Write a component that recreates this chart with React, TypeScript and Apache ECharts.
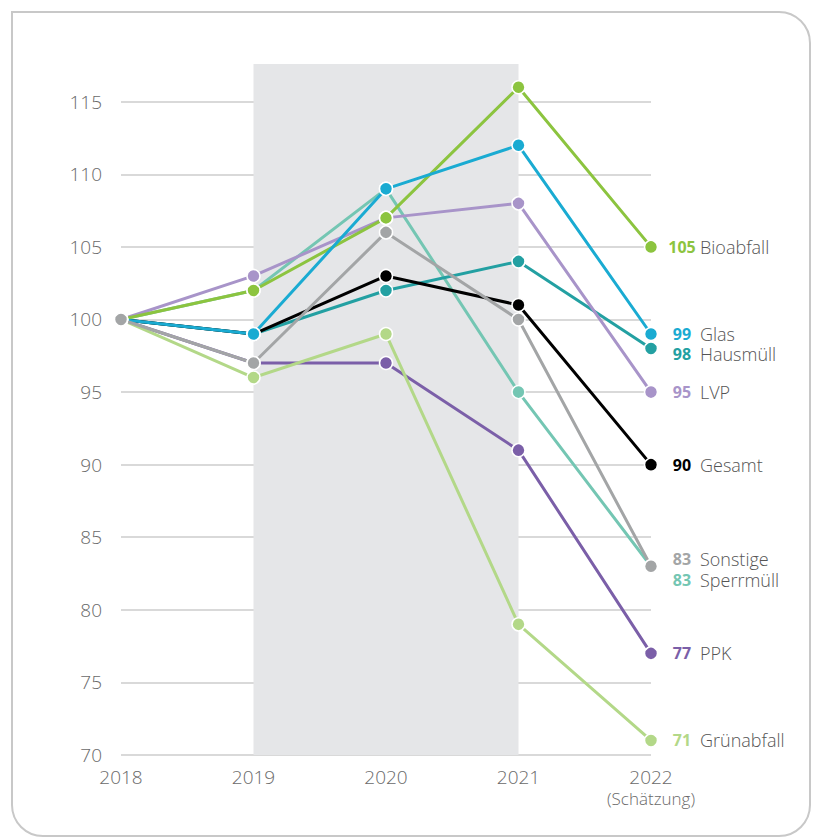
import React, { useEffect, useRef } from "react";
import * as echarts from "echarts";

const years = ["2018", "2019", "2020", "2021", "2022"];
const yTicks = [70, 75, 80, 85, 90, 95, 100, 105, 110, 115];

const sperrmuell = [100, 102, 109, 95, 83];
const hausmuell = [100, 99, 102, 104, 98];
const gesamt = [100, 99, 103, 101, 90];
const ppk = [100, 97, 97, 91, 77];
const gruenabfall = [100, 96, 99, 79, 71];
const lvp = [100, 103, 107, 108, 95];
const bioabfall = [100, 102, 107, 116, 105];
const glas = [100, 99, 109, 112, 99];
const sonstige = [100, 97, 106, 100, 83];

const seriesDefs = [
  { name: "Sperrmüll", data: sperrmuell, color: "#74c6b3", offset: [0, 14] },
  { name: "Hausmüll", data: hausmuell, color: "#23a0a2", offset: [0, 5] },
  { name: "Gesamt", data: gesamt, color: "#000000", offset: [0, 0] },
  { name: "PPK", data: ppk, color: "#7b5fa8", offset: [0, 0] },
  { name: "Grünabfall", data: gruenabfall, color: "#b3d888", offset: [0, 0] },
  { name: "LVP", data: lvp, color: "#a894c9", offset: [0, 0] },
  { name: "Bioabfall", data: bioabfall, color: "#8cc43f", offset: [0, 0] },
  { name: "Glas", data: glas, color: "#1aabd2", offset: [0, 0] },
  { name: "Sonstige", data: sonstige, color: "#a3a5a6", offset: [0, -7] },
];

const FONT = "'Open Sans', 'Noto Sans', sans-serif";
const TXT = "#6a6a6a";

export default function App() {
  const ref = useRef<HTMLDivElement>(null);
  useEffect(() => {
    if (!ref.current) return;
    const chart = echarts.init(ref.current, undefined, { renderer: "svg" });
    const series: any[] = [
      {
        type: "line",
        data: [],
        z: 0,
        silent: true,
        markArea: {
          silent: true,
          itemStyle: { color: "#e5e6e8" },
          data: [[{ xAxis: "2019" }, { xAxis: "2021" }]],
        },
      },
    ];
    seriesDefs.forEach((s) => {
      series.push({
        type: "line",
        name: s.name,
        data: s.data,
        z: 3,
        symbol: "circle",
        symbolSize: 13,
        lineStyle: { color: s.color, width: 3 },
        itemStyle: { color: s.color, borderColor: "#ffffff", borderWidth: 1.5 },
        endLabel: {
          show: true,
          distance: 13,
          offset: s.offset,
          formatter: (p: any) => `{v|${p.value}}{n|${s.name}}`,
          rich: {
            v: {
              width: 36,
              align: "right",
              fontFamily: FONT,
              fontSize: 16,
              fontWeight: "bold",
              color: s.color,
            },
            n: {
              fontFamily: FONT,
              fontSize: 18,
              fontWeight: 300,
              color: "#555555",
            },
          },
        },
      });
    });
    chart.setOption({
      animation: false,
      backgroundColor: "transparent",
      grid: { left: 121, right: 164, top: 64, bottom: 84 },
      xAxis: {
        type: "category",
        data: years,
        boundaryGap: false,
        axisLine: { show: false },
        axisTick: { show: false },
        axisLabel: {
          interval: 0,
          margin: 11,
          fontFamily: FONT,
          fontSize: 19,
          fontWeight: 300,
          color: TXT,
          lineHeight: 22,
          formatter: (v: string) => (v === "2022" ? `${v}\n{s|(Schätzung)}` : v),
          rich: {
            s: { fontFamily: FONT, fontSize: 17, fontWeight: 300, color: TXT, lineHeight: 20 },
          },
        },
      },
      yAxis: {
        type: "value",
        min: yTicks[0],
        max: 117.6,
        interval: 5,
        z: 1,
        axisLine: { show: false },
        axisTick: { show: false },
        axisLabel: {
          margin: 19,
          fontFamily: FONT,
          fontSize: 19,
          fontWeight: 300,
          color: TXT,
          showMaxLabel: false,
          formatter: (v: number) => (yTicks.includes(v) ? String(v) : ""),
        },
        splitLine: {
          show: true,
          showMaxLine: false,
          lineStyle: { color: "#cccccc", width: 1.5 },
        },
      },
      series,
    });
    return () => chart.dispose();
  }, []);
  return (
    <div style={{ position: "absolute", left: 0, top: 0, width: 815, height: 839, background: "#fff", overflow: "hidden" }}>
      <div
        style={{
          position: "absolute",
          left: 11,
          top: 11,
          width: 796,
          height: 822,
          border: "2px solid #c8c8c8",
          borderRadius: "0 32px 32px 32px",
        }}
      />
      <div ref={ref} style={{ position: "absolute", left: 0, top: 0, width: 815, height: 839 }} />
    </div>
  );
}
